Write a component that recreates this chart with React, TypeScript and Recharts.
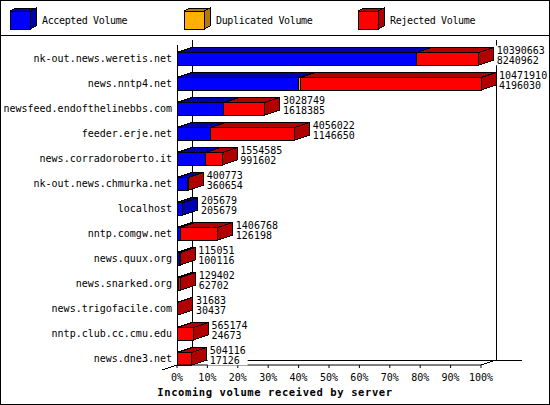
import { Bar, BarChart, LabelList, XAxis, YAxis } from "recharts";

const servers = [
  "nk-out.news.weretis.net",
  "news.nntp4.net",
  "newsfeed.endofthelinebbs.com",
  "feeder.erje.net",
  "news.corradoroberto.it",
  "nk-out.news.chmurka.net",
  "localhost",
  "nntp.comgw.net",
  "news.quux.org",
  "news.snarked.org",
  "news.trigofacile.com",
  "nntp.club.cc.cmu.edu",
  "news.dne3.net",
];

const totalVolume = [
  10390663, 10471910, 3028749, 4056022, 1554585, 400773, 205679, 1406768,
  115051, 129402, 31683, 565174, 504116,
];
const acceptedVolume = [
  8240962, 4196030, 1618385, 1146650, 991602, 360654, 205679, 126198, 100116,
  62702, 30437, 24673, 17126,
];
const duplicatedVolume = [0, 60000, 0, 0, 0, 0, 0, 0, 0, 0, 0, 0, 0];

const tickPercents = [0, 10, 20, 30, 40, 50, 60, 70, 80, 90, 100];

const series = [
  { key: "accepted", name: "Accepted Volume", fill: "#0000ff", shade: "#0000b0" },
  { key: "duplicated", name: "Duplicated Volume", fill: "#ffb000", shade: "#b07c00" },
  { key: "rejected", name: "Rejected Volume", fill: "#ff0000", shade: "#b00000" },
];

const rows = servers.map((server, i) => ({
  server,
  accepted: acceptedVolume[i],
  duplicated: duplicatedVolume[i],
  rejected: totalVolume[i] - acceptedVolume[i] - duplicatedVolume[i],
}));

const maxTotal = Math.max(...totalVolume);
const tickValues = tickPercents.map((p) => (maxTotal * p) / 100);

// layout
const W = 550;
const H = 405;
const MARGIN = { top: 40, right: 69, bottom: 0, left: 7 };
const Y_AXIS_W = 170;
const X_AXIS_H = 40;
const PLOT_LEFT = MARGIN.left + Y_AXIS_W;
const PLOT_RIGHT = W - MARGIN.right;
const PLOT_TOP = MARGIN.top;
const PLOT_BOTTOM = H - MARGIN.bottom - X_AXIS_H;
const ROW = (PLOT_BOTTOM - PLOT_TOP) / servers.length;
const DX = 15;
const DY = 5;
const MONO = "'DejaVu Sans Mono', 'Liberation Mono', monospace";

function Block3D(props: any) {
  const { x, y, width, height, fill, shade } = props;
  if (!width || width <= 0) return <g />;
  const h = height / 2;
  const t = y + height - h;
  const r = x + width;
  return (
    <g stroke="#000" strokeWidth={1} shapeRendering="crispEdges">
      <polygon
        points={`${x},${t} ${x + DX},${t - DY} ${r + DX},${t - DY} ${r},${t}`}
        fill={shade}
      />
      <polygon
        points={`${r},${t} ${r + DX},${t - DY} ${r + DX},${t + h - DY} ${r},${t + h}`}
        fill={shade}
      />
      <rect x={x} y={t} width={width} height={h} fill={fill} />
    </g>
  );
}

function ValueLabel(props: any) {
  const { x, y, width, height, index } = props;
  if (index == null) return null;
  const tx = x + (width || 0) + DX + 3;
  const b1 = y + height / 2 + 1;
  const b2 = b1 + 10.8;
  const lines = [String(totalVolume[index]), String(acceptedVolume[index])];
  const w = Math.max(...lines.map((s) => s.length)) * 6 + 4;
  return (
    <g>
      <rect x={tx - 2} y={b1 - 8} width={w} height={b2 - b1 + 9} fill="#fff" />
      <text x={tx} y={b1} fontFamily={MONO} fontSize={10} fill="#000">
        {lines[0]}
      </text>
      <text x={tx} y={b2} fontFamily={MONO} fontSize={10} fill="#000">
        {lines[1]}
      </text>
    </g>
  );
}

function ServerTick(props: any) {
  const { x, y, payload } = props;
  return (
    <text
      x={x}
      y={y + ROW / 4}
      dy="0.35em"
      textAnchor="end"
      fontFamily={MONO}
      fontSize={10}
      fill="#000"
    >
      {payload.value}
    </text>
  );
}

function Backdrop() {
  const bx = PLOT_LEFT + DX;
  const rx = PLOT_RIGHT + DX;
  const by = PLOT_BOTTOM - DY;
  return (
    <svg
      width={W}
      height={H}
      style={{ position: "absolute", left: 0, top: 0 }}
      shapeRendering="crispEdges"
    >
      <rect x={0.5} y={0.5} width={W - 1} height={H - 1} fill="#fff" stroke="#000" />
      <line x1={0} y1={35.5} x2={W} y2={35.5} stroke="#000" />
      {series.map((s, i) => {
        const lx = 10 + i * 174;
        return (
          <g key={s.key}>
            <polygon
              points={`${lx},11 ${lx + 6},8 ${lx + 26},8 ${lx + 20},11`}
              fill={s.shade}
              stroke="#000"
            />
            <polygon
              points={`${lx + 20},11 ${lx + 26},8 ${lx + 26},26 ${lx + 20},29`}
              fill={s.shade}
              stroke="#000"
            />
            <rect x={lx} y={11} width={20} height={18} fill={s.fill} stroke="#000" />
            <text
              x={lx + 32}
              y={24}
              fontFamily={MONO}
              fontSize={10}
              letterSpacing={-0.35}
              fill="#000"
            >
              {s.name}
            </text>
          </g>
        );
      })}
      <g stroke="#000" strokeWidth={1}>
        <line x1={bx} y1={PLOT_TOP} x2={bx} y2={by} />
        <line x1={rx} y1={PLOT_TOP} x2={rx} y2={by} />
        <line x1={bx} y1={by} x2={rx + 26} y2={by} />
        <line x1={PLOT_LEFT} y1={PLOT_TOP + DY} x2={PLOT_LEFT} y2={PLOT_BOTTOM} />
        <line x1={PLOT_LEFT - DX} y1={PLOT_BOTTOM + DY} x2={PLOT_LEFT} y2={PLOT_BOTTOM} />
        <line x1={PLOT_RIGHT} y1={PLOT_BOTTOM} x2={rx} y2={by} />
      </g>
      <text
        x={W / 2}
        y={396}
        textAnchor="middle"
        fontFamily={MONO}
        fontWeight="bold"
        fontSize={10.5}
        letterSpacing={0.6}
        fill="#000"
      >
        Incoming volume received by server
      </text>
    </svg>
  );
}

export default function App() {
  return (
    <div style={{ position: "absolute", left: 0, top: 0, width: W, height: H }}>
      <Backdrop />
      <div style={{ position: "absolute", left: 0, top: 0 }}>
        <BarChart
          width={W}
          height={H}
          layout="vertical"
          data={rows}
          margin={MARGIN}
          barCategoryGap={0}
          barGap={0}
        >
          <XAxis
            type="number"
            domain={[0, maxTotal]}
            ticks={tickValues}
            interval={0}
            height={X_AXIS_H}
            tickSize={3}
            tickMargin={6}
            tickFormatter={(v: number) => `${Math.round((v / maxTotal) * 100)}%`}
            axisLine={{ stroke: "#000" }}
            tickLine={{ stroke: "#000" }}
            tick={{ fill: "#000", fontSize: 10, fontFamily: MONO }}
          />
          <YAxis
            type="category"
            dataKey="server"
            width={Y_AXIS_W}
            interval={0}
            tickSize={0}
            tickMargin={5}
            axisLine={false}
            tickLine={false}
            tick={<ServerTick />}
          />
          {series.map((s) => (
            <Bar
              key={s.key}
              dataKey={s.key}
              name={s.name}
              stackId="v"
              fill={s.fill}
              isAnimationActive={false}
              shape={(p: any) => <Block3D {...p} shade={s.shade} />}
            >
              {s.key === "rejected" && (
                <LabelList dataKey="rejected" content={<ValueLabel />} />
              )}
            </Bar>
          ))}
        </BarChart>
      </div>
    </div>
  );
}
